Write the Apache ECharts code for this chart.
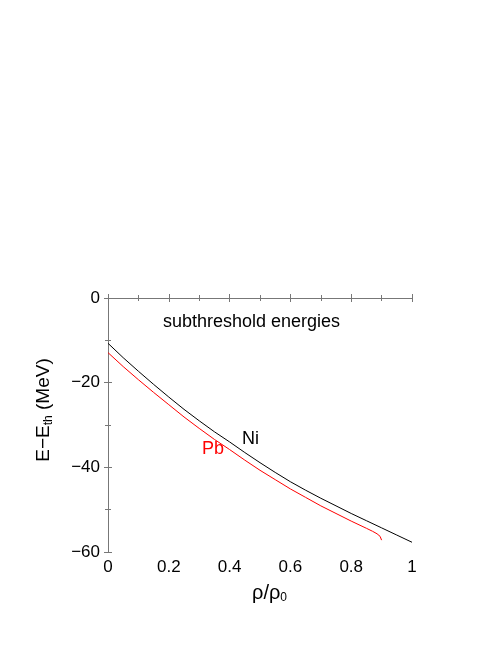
<!DOCTYPE html>
<html>
<head>
<meta charset="utf-8">
<script src="https://cdn.jsdelivr.net/npm/echarts@6/dist/echarts.min.js"></script>
<style>html,body{margin:0;padding:0;background:#fff;}#c{width:498px;height:645px;}</style>
</head>
<body>
<div id="c"></div>
<script>
const niX = [0, 0.05, 0.1, 0.15, 0.2, 0.25, 0.3, 0.35, 0.4, 0.45, 0.5, 0.55, 0.6, 0.65, 0.7, 0.75, 0.8, 0.85, 0.9, 0.95, 1.0];
const niY = [-10.7, -14.1, -17.3, -20.4, -23.4, -26.3, -29.0, -31.6, -34.0, -36.5, -38.9, -41.2, -43.4, -45.4, -47.3, -49.1, -50.9, -52.6, -54.3, -56.0, -57.7];
const pbX = [0, 0.05, 0.1, 0.15, 0.2, 0.25, 0.3, 0.35, 0.4, 0.45, 0.5, 0.55, 0.6, 0.65, 0.7, 0.75, 0.8, 0.85, 0.87, 0.885, 0.895, 0.9];
const pbY = [-12.9, -16.2, -19.3, -22.3, -25.2, -28.1, -30.8, -33.4, -35.8, -38.3, -40.7, -42.9, -45.1, -47.1, -49.1, -50.9, -52.7, -54.4, -55.1, -55.7, -56.3, -57.2];
const xTicks = [0, 0.2, 0.4, 0.6, 0.8, 1];
const yTicks = [-60, -40, -20, 0];

const chart = echarts.init(document.getElementById('c'));
const font = 'Liberation Sans, Arial, sans-serif';
const axisCommon = {
  axisLine: {show: true, lineStyle: {color: '#777', width: 1}},
  axisTick: {show: true, inside: true, length: 4, lineStyle: {color: '#777'}},
  minorTick: {show: true, splitNumber: 2, length: 3, lineStyle: {color: '#777'}},
  splitLine: {show: false}
};
chart.setOption({
  animation: false,
  backgroundColor: '#fff',
  grid: {left: 108, top: 298, width: 304, height: 254},
  xAxis: [
    Object.assign({type: 'value', min: 0, max: 1, interval: 0.2, position: 'bottom',
      axisLabel: {color: '#000', fontSize: 17, fontFamily: font, margin: 7,
        formatter: v => xTicks.indexOf(Math.round(v*10)/10) >= 0 ? String(Math.round(v*10)/10) : ''}}, axisCommon),
    Object.assign({type: 'value', min: 0, max: 1, interval: 0.2, position: 'top', axisLabel: {show: false}}, axisCommon)
  ],
  yAxis: [
    Object.assign({type: 'value', min: -60, max: 0, interval: 20, position: 'left',
      axisLabel: {color: '#000', fontSize: 17, fontFamily: font, margin: 8,
        formatter: v => yTicks.indexOf(v) >= 0 ? (v < 0 ? '\u2212' + Math.abs(v) : String(v)) : ''}}, axisCommon),
    Object.assign({type: 'value', min: -60, max: 0, interval: 20, position: 'right', axisLabel: {show: false}}, axisCommon)
  ],
  series: [
    {type: 'line', name: 'Ni', data: niX.map((x, i) => [x, niY[i]]), showSymbol: false, smooth: false,
      lineStyle: {color: '#000', width: 1}, itemStyle: {color: '#000'}},
    {type: 'line', name: 'Pb', data: pbX.map((x, i) => [x, pbY[i]]), showSymbol: false, smooth: false,
      lineStyle: {color: '#ff0000', width: 1}, itemStyle: {color: '#ff0000'}}
  ],
  graphic: [
    {type: 'text', left: 163, top: 313, style: {text: 'subthreshold energies', fill: '#000', fontSize: 18, fontFamily: font}},
    {type: 'text', left: 242, top: 430, style: {text: 'Ni', fill: '#000', fontSize: 18, fontFamily: font}},
    {type: 'text', left: 202, top: 440, style: {text: 'Pb', fill: '#ff0000', fontSize: 18, fontFamily: font}},
    {type: 'text', left: 252, top: 583, style: {
      text: '{a|\u03c1/\u03c1}{s|0}', fill: '#000',
      rich: {a: {fontSize: 20, fontFamily: font, fill: '#000'}, s: {fontSize: 12, fontFamily: font, fill: '#000', padding: [9, 0, 0, 0]}}}},
    {type: 'text', x: 44, y: 410, rotation: Math.PI/2, style: {
      text: '{a|E\u2212E}{s|th}{a| (MeV)}', fill: '#000', align: 'center', verticalAlign: 'middle',
      rich: {a: {fontSize: 19, fontFamily: font, fill: '#000'}, s: {fontSize: 12, fontFamily: font, fill: '#000', padding: [9, 0, 0, 0]}}}}
  ]
});
</script>
</body>
</html>
